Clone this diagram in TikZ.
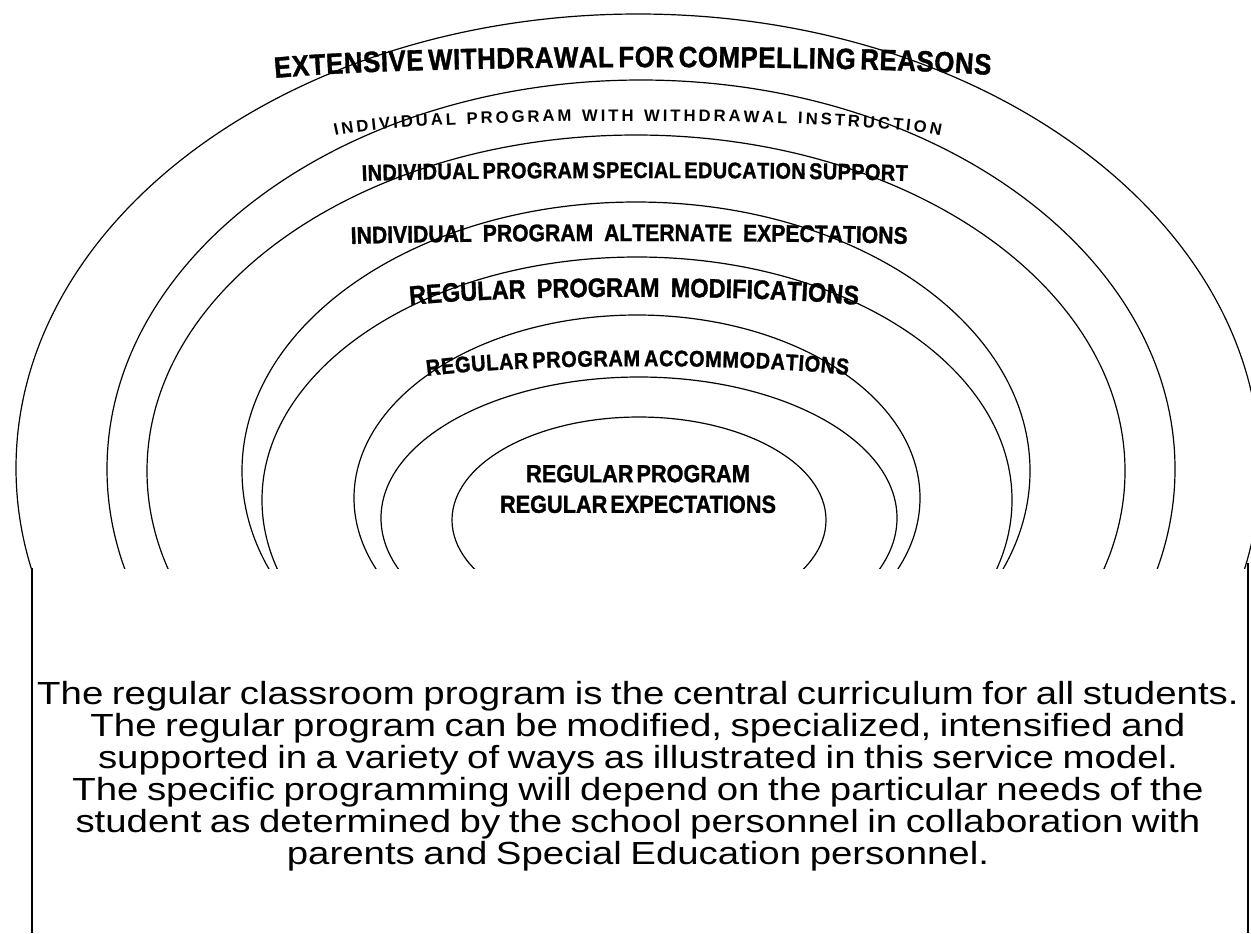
\documentclass[tikz,border=0pt]{standalone}
\usepackage{fontspec}
\setmainfont{Liberation Sans}
\newfontfamily\ringfont[FakeStretch=0.88,FakeBold=1.2,WordSpace=0.5]{Liberation Sans}
\newfontfamily\notefont[FakeStretch=1.2,WordSpace=0.8]{Liberation Sans}
\usetikzlibrary{decorations.text}
\newcommand\ringsize[1]{\ringfont\bfseries\fontsize{#1}{#1}\selectfont}

\begin{document}
\begin{tikzpicture}[x=.75pt,y=-.75pt,
  ring/.style={line width=.9pt},
  side/.style={line width=1.3pt},
  ringlabel/.style={decorate,decoration={text along path,text align=fit to path,text={#1}}},
  widelabel/.style={decorate,decoration={text along path,text align=fit to path stretching spaces,text={#1}}}]
  \fill[white] (0,0) rectangle (1251,933);
  \useasboundingbox (0,0) rectangle (1251,933);
  % rings, cut off where the box begins
  \begin{scope}
    \clip (0,0) rectangle (1251,568);
    \draw[ring] (638,468) ellipse [x radius=622,y radius=454];
    \draw[ring] (641,469) ellipse [x radius=534,y radius=389];
    \draw[ring] (636,471) ellipse [x radius=489,y radius=336];
    \draw[ring] (636,471) ellipse [x radius=394,y radius=269];
    \draw[ring] (637,500) ellipse [x radius=375,y radius=243];
    \draw[ring] (637,498) ellipse [x radius=283,y radius=183];
    \draw[ring] (639,518) ellipse [x radius=258,y radius=141];
    \draw[ring] (639,520) ellipse [x radius=187,y radius=103];
  \end{scope}
  % ring labels
  \path[ringlabel={|\ringsize{22pt}|EXTENSIVE WITHDRAWAL FOR COMPELLING REASONS}]
    (275,78) .. controls (420,64) and (845,64) .. (990,75);
  \path[ringlabel={|\bfseries\fontsize{12.5pt}{12.5pt}\selectfont|INDIVIDUAL PROGRAM WITH WITHDRAWAL INSTRUCTION}]
    (335,136) .. controls (420,116) and (856,116) .. (940,136);
  \path[ringlabel={|\ringsize{17pt}|INDIVIDUAL PROGRAM SPECIAL EDUCATION SUPPORT}]
    (362,181) .. controls (480,177) and (790,177) .. (907,181);
  \path[widelabel={|\ringsize{18pt}|INDIVIDUAL PROGRAM ALTERNATE EXPECTATIONS}]
    (351,244) .. controls (470,240) and (790,240) .. (907,244);
  \path[widelabel={|\ringsize{20pt}|REGULAR PROGRAM MODIFICATIONS}]
    (410,305) .. controls (520,294) and (750,294) .. (858,305);
  \path[ringlabel={|\ringsize{17pt}|REGULAR PROGRAM ACCOMMODATIONS}]
    (427,376) .. controls (530,363) and (745,363) .. (848,375);
  \node[font=\ringfont\bfseries\fontsize{18.5pt}{23pt}\selectfont,align=center,inner sep=0pt] (core) at (638,489)
    {REGULAR PROGRAM\\REGULAR EXPECTATIONS};
  % text box
  \draw[side] (32,568) -- (32,933);
  \draw[side] (1248,563) -- (1248,933);
  \node[font=\notefont\fontsize{24pt}{24pt}\selectfont,align=center,inner sep=0pt] (note) at (638,776)
    {The regular classroom program is the central curriculum for all students.\\
     The regular program can be modified, specialized, intensified and\\
     supported in a variety of ways as illustrated in this service model.\\
     The specific programming will depend on the particular needs of the\\
     student as determined by the school personnel in collaboration with\\
     parents and Special Education personnel.};
\end{tikzpicture}
\end{document}
